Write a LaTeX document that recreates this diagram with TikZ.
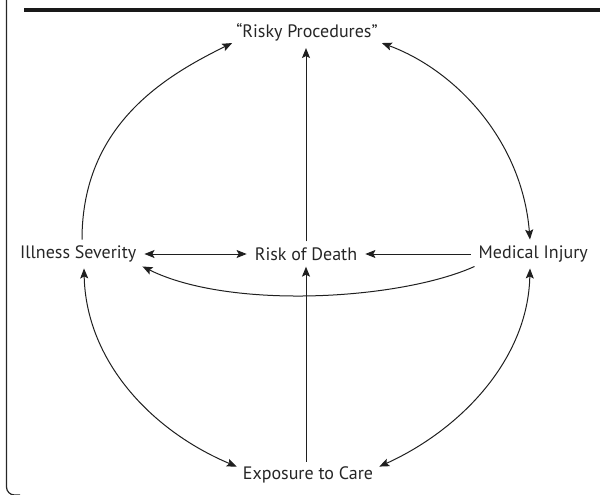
\documentclass[tikz,border=0pt]{standalone}
\usepackage{fontspec}
\setmainfont{PT Sans}
\usetikzlibrary{arrows.meta}
\begin{document}
\begin{tikzpicture}[x=1pt,y=-1pt,
  lbl/.style={font=\fontsize{18}{20}\selectfont, text=black!85, inner sep=0pt},
  conn/.style={line width=1pt, draw=black!88},
  tipend/.style={-{Stealth[length=10pt,width=8pt,inset=2pt]}},
  tipboth/.style={{Stealth[length=10pt,width=8pt,inset=2pt]}-{Stealth[length=10pt,width=8pt,inset=2pt]}},
  ]
\useasboundingbox (0,0) rectangle (600,495);
% frame
\draw[line width=1.2pt, black!85] (6.5,0) -- (6.5,487) arc[start angle=180,end angle=270,radius=8pt] -- (20,495);
\draw[line width=4pt, black!90] (24,10.3) -- (600,10.3);
% nodes
\node[lbl] (rp) at (307,32) {“Risky Procedures”};
\node[lbl] (ec) at (308,475) {Exposure to Care};
\node[lbl, anchor=west] (is) at (20,254) {Illness Severity};
\node[lbl] (rd) at (306,254) {Risk of Death};
\node[lbl, anchor=east] (mi) at (588,254) {Medical Injury};
% straight connectors
\draw[conn, tipend] (rd.north -| 306,0) ++(0,-6) -- ([yshift=-7pt]rp.south -| 306,0);
\draw[conn, tipend] ([yshift=5pt]ec.north -| 306,0) -- ([yshift=-6pt]rd.south -| 306,0);
\draw[conn, tipboth] ([xshift=8pt]is.east) -- ([xshift=-8pt]rd.west);
\draw[conn, tipend] ([xshift=-8pt]mi.west) -- ([xshift=8pt]rd.east);
% arcs
\draw[conn, tipend] ([yshift=6pt]is.north -| 82,0) .. controls (82,125) and (165,76) .. ([xshift=-4pt,yshift=-2pt]rp.south west);
\draw[conn, tipboth] ([xshift=4pt,yshift=-2pt]rp.south east) .. controls (455,70) and (522,140) .. ([yshift=6pt]mi.north -| 530,0);
\draw[conn, tipboth] ([yshift=-6pt]is.south -| 84,0) .. controls (86,360) and (150,430) .. ([xshift=-6pt]ec.north west);
\draw[conn, tipboth] ([yshift=-6pt]mi.south -| 530,0) .. controls (528,360) and (460,430) .. ([xshift=6pt]ec.north east);
\draw[conn, tipend] ([xshift=-4pt,yshift=-4pt]mi.south west) .. controls (400,300) and (230,310) .. ([xshift=6pt,yshift=-4pt]is.south east);
\end{tikzpicture}
\end{document}
